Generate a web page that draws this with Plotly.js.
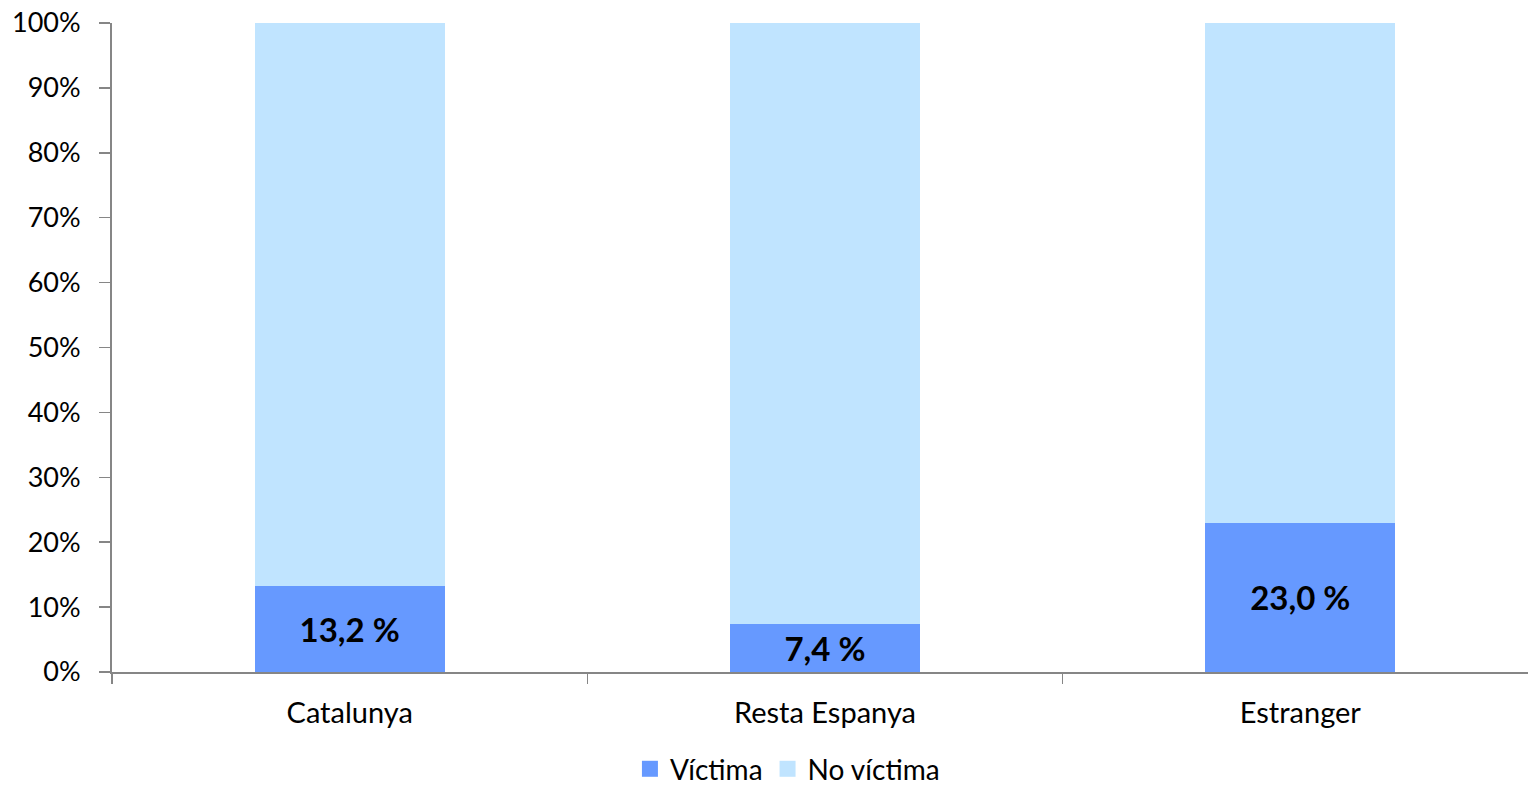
<!DOCTYPE html>
<html>
<head>
<meta charset="utf-8">
<script src="https://cdn.plot.ly/plotly-3.0.1.min.js"></script>
<style>html,body{margin:0;padding:0;background:#fff;}#chart{width:1530px;height:788px;}</style>
</head>
<body>
<div id="chart"></div>
<script>
var categories = ["Catalunya", "Resta Espanya", "Estranger"];
var victima = [13.2, 7.4, 23.0];
var noVictima = [86.8, 92.6, 77.0];
var victimaLabels = ["13,2 %", "7,4 %", "23,0 %"];
var seriesNames = ["Víctima", "No víctima"];
var seriesColors = ["#6699FF", "#C0E4FF"];
var yTickVals = [0, 10, 20, 30, 40, 50, 60, 70, 80, 90, 100];
var yTickText = ["0%", "10%", "20%", "30%", "40%", "50%", "60%", "70%", "80%", "90%", "100%"];

var fontFam = "Lato, 'Open Sans', sans-serif";
var traces = [
  {
    type: "bar", name: seriesNames[0], x: categories, y: victima,
    marker: {color: seriesColors[0]}, showlegend: false,
    text: victimaLabels, textposition: "inside", insidetextanchor: "middle",
    textfont: {family: fontFam, size: 33, color: "#000", weight: "bold"},
    textangle: 0, hoverinfo: "skip"
  },
  {
    type: "bar", name: seriesNames[1], x: categories, y: noVictima,
    marker: {color: seriesColors[1]}, showlegend: false, hoverinfo: "skip"
  },
  {
    type: "scatter", mode: "markers", name: seriesNames[0], x: [null], y: [null],
    marker: {symbol: "square", size: 18, color: seriesColors[0]}, showlegend: true
  },
  {
    type: "scatter", mode: "markers", name: seriesNames[1], x: [null], y: [null],
    marker: {symbol: "square", size: 18, color: seriesColors[1]}, showlegend: true
  }
];

var layout = {
  width: 1530, height: 788,
  margin: {l: 112, r: 2, t: 23, b: 116, autoexpand: false},
  barmode: "stack", bargap: 0.6,
  paper_bgcolor: "#fff", plot_bgcolor: "#fff",
  font: {family: fontFam, size: 28, color: "#000"},
  showlegend: true,
  legend: {orientation: "h", x: 0.477, xanchor: "center", yref: "container", y: 0.024, yanchor: "middle",
           font: {size: 28}, itemwidth: 30, traceorder: "normal", itemsizing: "trace"},
  xaxis: {
    type: "category", range: [-0.5, 2.479],
    showline: true, linecolor: "#868686", linewidth: 2,
    ticks: "outside", tickson: "boundaries", ticklen: 10, tickcolor: "#868686", tickwidth: 1.5,
    showgrid: false, zeroline: false, tickfont: {size: 29}, ticklabelstandoff: 14
  },
  yaxis: {
    range: [0, 100], tickvals: yTickVals, ticktext: yTickText,
    showline: true, linecolor: "#868686", linewidth: 2,
    ticks: "outside", ticklen: 11, tickcolor: "#868686", tickwidth: 1.5,
    showgrid: false, zeroline: false, tickfont: {size: 27}, ticklabelstandoff: 13
  }
};

Plotly.newPlot("chart", traces, layout, {displayModeBar: false, staticPlot: true});
</script>
</body>
</html>
